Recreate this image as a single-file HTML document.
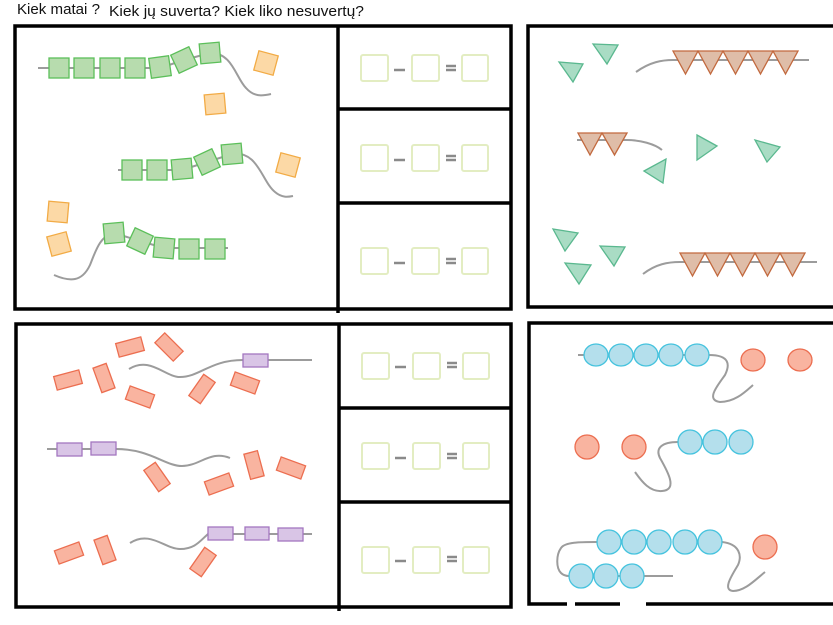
<!DOCTYPE html>
<html><head><meta charset="utf-8"><style>
html,body{margin:0;padding:0;background:#fff;width:833px;height:625px;overflow:hidden}
svg{display:block}
</style></head><body>
<svg width="833" height="625" viewBox="0 0 833 625" xmlns="http://www.w3.org/2000/svg">
<g font-family="Liberation Sans, sans-serif" font-size="15" fill="#111">
<text x="17" y="14" textLength="83" lengthAdjust="spacingAndGlyphs">Kiek matai ?</text>
<text x="109" y="16" textLength="255" lengthAdjust="spacingAndGlyphs">Kiek jų suverta? Kiek liko nesuvertų?</text>
</g>
<!-- frames -->
<g fill="none" stroke="#000" stroke-width="3.5">
<rect x="15" y="26" width="496" height="283"/>
<line x1="338" y1="26" x2="338" y2="313"/>
<line x1="338" y1="109" x2="512" y2="109"/>
<line x1="338" y1="203" x2="511" y2="203"/>
<rect x="16" y="324" width="495" height="283"/>
<line x1="339" y1="324" x2="339" y2="611"/>
<line x1="339" y1="408" x2="512" y2="408"/>
<line x1="339" y1="502" x2="511" y2="502"/>
<path d="M840 26 H528 V307 H840"/>
<path d="M840 323 H529 V604 H840"/>
</g>
<g stroke="#fff" stroke-width="4"><line x1="567" y1="604" x2="575" y2="604"/><line x1="620" y1="604" x2="646" y2="604"/></g>
<!-- equations -->
<g fill="none" stroke="#e3edc2" stroke-width="2">
<rect x="361" y="55" width="27" height="26" rx="2"/><rect x="412" y="55" width="27" height="26" rx="2"/><rect x="462" y="55" width="26" height="26" rx="2"/>
<rect x="361" y="145" width="27" height="26" rx="2"/><rect x="412" y="145" width="27" height="26" rx="2"/><rect x="462" y="145" width="26" height="26" rx="2"/>
<rect x="361" y="248" width="27" height="26" rx="2"/><rect x="412" y="248" width="27" height="26" rx="2"/><rect x="462" y="248" width="26" height="26" rx="2"/>
<rect x="362" y="353" width="27" height="26" rx="2"/><rect x="413" y="353" width="27" height="26" rx="2"/><rect x="463" y="353" width="26" height="26" rx="2"/>
<rect x="362" y="443" width="27" height="26" rx="2"/><rect x="413" y="443" width="27" height="26" rx="2"/><rect x="463" y="443" width="26" height="26" rx="2"/>
<rect x="362" y="547" width="27" height="26" rx="2"/><rect x="413" y="547" width="27" height="26" rx="2"/><rect x="463" y="547" width="26" height="26" rx="2"/>
</g>
<g stroke="#8a8a8a" stroke-width="2.5">
<line x1="394" y1="70" x2="405" y2="70"/><line x1="446" y1="66" x2="456" y2="66"/><line x1="446" y1="70" x2="456" y2="70"/>
<line x1="394" y1="160" x2="405" y2="160"/><line x1="446" y1="156" x2="456" y2="156"/><line x1="446" y1="160" x2="456" y2="160"/>
<line x1="394" y1="263" x2="405" y2="263"/><line x1="446" y1="259" x2="456" y2="259"/><line x1="446" y1="263" x2="456" y2="263"/>
<line x1="395" y1="367" x2="406" y2="367"/><line x1="447" y1="363" x2="457" y2="363"/><line x1="447" y1="367" x2="457" y2="367"/>
<line x1="395" y1="458" x2="406" y2="458"/><line x1="447" y1="454" x2="457" y2="454"/><line x1="447" y1="458" x2="457" y2="458"/>
<line x1="395" y1="561" x2="406" y2="561"/><line x1="447" y1="557" x2="457" y2="557"/><line x1="447" y1="561" x2="457" y2="561"/>
</g>
<!-- strings -->
<g fill="none" stroke="#9c9c9c" stroke-width="2">
<path d="M38 68 H160 L184 60 L210 53 C232 52 236 78 246 88 C254 97 262 96 271 94"/>
<path d="M118 170 H182 L207 162 L232 154 C258 150 262 182 275 192 C282 198 288 197 293 196"/>
<path d="M54 275 C70 282 82 282 90 265 C96 250 100 236 114 233 L140 241 L164 248 H228"/>
<path d="M636 72 C650 62 662 60 673 60 H809"/>
<path d="M577 140 H627 C640 140 655 144 662 150"/>
<path d="M643 274 C656 264 668 262 680 262 H817"/>
<path d="M129 369 C150 356 165 377 180 377 C200 377 210 360 243 360 H312"/>
<path d="M47 449 H116 C150 449 165 466 182 466 C200 466 210 450 230 458"/>
<path d="M130 543 C150 530 165 549 180 549 C195 549 200 541 208 534 H312"/>
<path d="M578 355 H709 C730 355 730 365 725 375 C718 385 705 400 720 402 C735 402 745 392 753 385"/>
<path d="M678 442 C662 442 655 448 660 458 C668 472 678 490 662 491 C650 492 642 482 635 472"/>
<path d="M597 542 C580 542 565 542 561 548 C556 555 556 568 561 573 C564 576 568 576 569 576 H673"/>
<path d="M722 542 C740 544 742 556 738 565 C732 575 722 590 733 591 C745 591 755 580 765 572"/>
</g>
<!-- green squares -->
<g fill="#b7dcae" stroke="#5cbf5a" stroke-width="1.3">
<rect x="49" y="58" width="20" height="20"/><rect x="74" y="58" width="20" height="20"/><rect x="100" y="58" width="20" height="20"/><rect x="125" y="58" width="20" height="20"/>
<rect x="-10" y="-10" width="20" height="20" transform="translate(160,67) rotate(-8)"/>
<rect x="-10" y="-10" width="20" height="20" transform="translate(184,60) rotate(-25)"/>
<rect x="-10" y="-10" width="20" height="20" transform="translate(210,53) rotate(-5)"/>
<rect x="-10" y="-10" width="20" height="20" transform="translate(132,170)"/>
<rect x="-10" y="-10" width="20" height="20" transform="translate(157,170)"/>
<rect x="-10" y="-10" width="20" height="20" transform="translate(182,169) rotate(-5)"/>
<rect x="-10" y="-10" width="20" height="20" transform="translate(207,162) rotate(-25)"/>
<rect x="-10" y="-10" width="20" height="20" transform="translate(232,154) rotate(-5)"/>
<rect x="-10" y="-10" width="20" height="20" transform="translate(114,233) rotate(-5)"/>
<rect x="-10" y="-10" width="20" height="20" transform="translate(140,241) rotate(25)"/>
<rect x="-10" y="-10" width="20" height="20" transform="translate(164,248) rotate(5)"/>
<rect x="-10" y="-10" width="20" height="20" transform="translate(189,249)"/>
<rect x="-10" y="-10" width="20" height="20" transform="translate(215,249)"/>
</g>
<g fill="#fcd9a6" stroke="#f2ab45" stroke-width="1.3">
<rect x="-10" y="-10" width="20" height="20" transform="translate(266,63) rotate(15)"/>
<rect x="-10" y="-10" width="20" height="20" transform="translate(215,104) rotate(-5)"/>
<rect x="-10" y="-10" width="20" height="20" transform="translate(288,165) rotate(15)"/>
<rect x="-10" y="-10" width="20" height="20" transform="translate(58,212) rotate(5)"/>
<rect x="-10" y="-10" width="20" height="20" transform="translate(59,244) rotate(-15)"/>
</g>
<!-- triangles -->
<g fill="#dfbda8" stroke="#c2693e" stroke-width="1.3">
<path d="M673 51h25l-12.5 23z"/><path d="M698 51h25l-12.5 23z"/><path d="M723 51h25l-12.5 23z"/><path d="M748 51h25l-12.5 23z"/><path d="M773 51h25l-12.5 23z"/>
<path d="M578 133h24l-12 22z"/><path d="M602 133h25l-12.5 22z"/>
<path d="M680 253h25l-12.5 23z"/><path d="M705 253h25l-12.5 23z"/><path d="M730 253h25l-12.5 23z"/><path d="M755 253h25l-12.5 23z"/><path d="M780 253h25l-12.5 23z"/>
</g>
<g fill="#a9dcc4" stroke="#5ab88f" stroke-width="1.3">
<path d="M559 62L583 64L573 82z"/><path d="M593 44L618 45L607 64z"/>
<path d="M644 171L666 159L663 183z"/><path d="M697 135L717 146L697 160z"/><path d="M755 140L780 147L767 162z"/>
<path d="M553 229L578 233L565 251z"/><path d="M600 246L625 247L614 266z"/><path d="M565 263L591 265L579 284z"/>
</g>
<!-- red rects -->
<g fill="#f9b4a0" stroke="#ec6e50" stroke-width="1.3">
<rect x="-13" y="-7" width="26" height="14" transform="translate(130,347) rotate(-15)"/>
<rect x="-13" y="-7" width="26" height="14" transform="translate(169,347) rotate(45)"/>
<rect x="-13" y="-7" width="26" height="14" transform="translate(68,380) rotate(-15)"/>
<rect x="-13" y="-7" width="26" height="14" transform="translate(104,378) rotate(70)"/>
<rect x="-13" y="-7" width="26" height="14" transform="translate(140,397) rotate(20)"/>
<rect x="-13" y="-7" width="26" height="14" transform="translate(202,389) rotate(-55)"/>
<rect x="-13" y="-7" width="26" height="14" transform="translate(245,383) rotate(20)"/>
<rect x="-13" y="-7" width="26" height="14" transform="translate(157,477) rotate(55)"/>
<rect x="-13" y="-7" width="26" height="14" transform="translate(219,484) rotate(-20)"/>
<rect x="-13" y="-7" width="26" height="14" transform="translate(254,465) rotate(75)"/>
<rect x="-13" y="-7" width="26" height="14" transform="translate(291,468) rotate(20)"/>
<rect x="-13" y="-7" width="26" height="14" transform="translate(69,553) rotate(-20)"/>
<rect x="-13" y="-7" width="26" height="14" transform="translate(105,550) rotate(70)"/>
<rect x="-13" y="-7" width="26" height="14" transform="translate(203,562) rotate(-55)"/>
</g>
<g fill="#d9c5e6" stroke="#a377c0" stroke-width="1.3">
<rect x="243" y="354" width="25" height="13"/>
<rect x="57" y="443" width="25" height="13"/><rect x="91" y="442" width="25" height="13"/>
<rect x="208" y="527" width="25" height="13"/><rect x="245" y="527" width="24" height="13"/><rect x="278" y="528" width="25" height="13"/>
</g>
<!-- circles -->
<g fill="#b4dfec" stroke="#45c3de" stroke-width="1.3">
<ellipse cx="596" cy="355" rx="12" ry="11"/><ellipse cx="621" cy="355" rx="12" ry="11"/><ellipse cx="646" cy="355" rx="12" ry="11"/><ellipse cx="671" cy="355" rx="12" ry="11"/><ellipse cx="697" cy="355" rx="12" ry="11"/>
<circle cx="690" cy="442" r="12"/><circle cx="715" cy="442" r="12"/><circle cx="741" cy="442" r="12"/>
<circle cx="609" cy="542" r="12"/><circle cx="634" cy="542" r="12"/><circle cx="659" cy="542" r="12"/><circle cx="685" cy="542" r="12"/><circle cx="710" cy="542" r="12"/>
<circle cx="581" cy="576" r="12"/><circle cx="606" cy="576" r="12"/><circle cx="632" cy="576" r="12"/>
</g>
<g fill="#f9b4a0" stroke="#ec6e50" stroke-width="1.3">
<ellipse cx="753" cy="360" rx="12" ry="11"/><ellipse cx="800" cy="360" rx="12" ry="11"/>
<circle cx="587" cy="447" r="12"/><circle cx="634" cy="447" r="12"/>
<circle cx="765" cy="547" r="12"/>
</g>
</svg>
</body></html>
